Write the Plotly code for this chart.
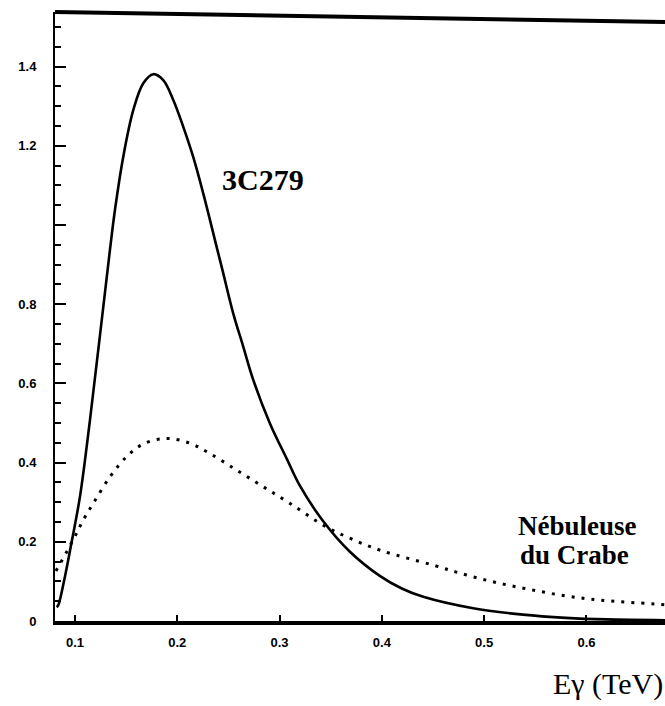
import plotly.graph_objects as go

# 3C279 curve (solid)
x_3c279 = [0.0822, 0.0837, 0.0902, 0.0968, 0.1049, 0.1147, 0.1342, 0.1391, 0.1472,
           0.1570, 0.1668, 0.1765, 0.1863, 0.1961, 0.2059, 0.2156, 0.2254, 0.2385, 0.2450,
           0.2547, 0.2645, 0.2743, 0.2906, 0.3070, 0.3200, 0.3427, 0.3688, 0.3980, 0.4195,
           0.4405, 0.4893, 0.5380, 0.5800, 0.6200, 0.6770]
y_3c279 = [0.035, 0.040, 0.112, 0.200, 0.314, 0.508, 0.937, 1.038, 1.172,
           1.290, 1.358, 1.381, 1.366, 1.316, 1.248, 1.172, 1.080, 0.945, 0.878,
           0.777, 0.693, 0.609, 0.499, 0.410, 0.341, 0.252, 0.175, 0.114, 0.082,
           0.061, 0.032, 0.016, 0.008, 0.004, 0.002]

# Nebuleuse du Crabe curve (dotted)
x_crabe = [0.0814, 0.0983, 0.1081, 0.1179, 0.1342, 0.1505, 0.1668, 0.1896, 0.2124, 0.2320,
           0.2581, 0.2841, 0.3102, 0.3427, 0.3688, 0.3981, 0.4502, 0.4829, 0.5154, 0.5480,
           0.5806, 0.6132, 0.6718, 0.6770]
y_crabe = [0.126, 0.205, 0.255, 0.297, 0.364, 0.415, 0.447, 0.461, 0.449, 0.423,
           0.381, 0.339, 0.297, 0.242, 0.209, 0.179, 0.141, 0.116, 0.095, 0.078,
           0.063, 0.053, 0.042, 0.041]

y_tickvals = [0, 0.2, 0.4, 0.6, 0.8, 1.0, 1.2, 1.4]
y_ticktext = ["0", "0.2", "0.4", "0.6", "0.8", "", "1.2", "1.4"]
x_tickvals = [0.1, 0.2, 0.3, 0.4, 0.5, 0.6]
x_ticktext = ["0.1", "0.2", "0.3", "0.4", "0.5", "0.6"]

fig = go.Figure()
fig.add_trace(go.Scatter(x=x_crabe, y=y_crabe, mode="lines",
                         line=dict(color="black", width=3, dash="3px,7px", shape="spline", smoothing=1.0),
                         showlegend=False, hoverinfo="skip"))
fig.add_trace(go.Scatter(x=x_3c279, y=y_3c279, mode="lines",
                         line=dict(color="black", width=2.6, shape="spline", smoothing=1.0),
                         showlegend=False, hoverinfo="skip"))

tickfont = dict(family="Liberation Sans", size=13, color="black", weight="bold")
fig.update_layout(
    width=665, height=706,
    margin=dict(l=55, r=0, t=12, b=85),
    paper_bgcolor="white", plot_bgcolor="white",
    showlegend=False,
    xaxis=dict(range=[0.0805, 0.6768], showgrid=False, zeroline=False,
               showline=True, linecolor="black", linewidth=3.5,
               ticks="inside", ticklen=6, tickwidth=1.5, tickcolor="black",
               tickvals=x_tickvals, ticktext=x_ticktext, tickfont=tickfont,
               ticklabelstandoff=7),
    yaxis=dict(range=[0, 1.538], showgrid=False, zeroline=False,
               showline=True, linecolor="black", linewidth=2,
               ticks="inside", ticklen=11, tickwidth=2, tickcolor="black",
               tickvals=y_tickvals, ticktext=y_ticktext, tickfont=tickfont,
               ticklabelstandoff=14,
               minor=dict(ticks="inside", ticklen=6, tickwidth=1.5, tickcolor="black",
                          dtick=0.05, tick0=0, showgrid=False)),
    shapes=[dict(type="line", xref="paper", yref="paper", x0=0, y0=1.0, x1=1, y1=0.9836,
                 line=dict(color="black", width=4))],
    annotations=[
        dict(x=0.2838, y=1.116, xref="x", yref="y", text="3C279", showarrow=False,
             font=dict(family="Liberation Serif", size=30, color="black", weight="bold")),
        dict(x=0.5917, y=0.240, xref="x", yref="y", text="Nébuleuse", showarrow=False,
             font=dict(family="Liberation Serif", size=27, color="black", weight="bold")),
        dict(x=0.5888, y=0.166, xref="x", yref="y", text="du Crabe", showarrow=False,
             font=dict(family="Liberation Serif", size=27, color="black", weight="bold")),
        dict(x=1.0, y=-0.103, xref="paper", yref="paper", text="Eγ (TeV)", showarrow=False,
             xanchor="right", yanchor="middle",
             font=dict(family="Liberation Serif", size=30, color="black")),
    ],
)

fig.write_html("out.html")
